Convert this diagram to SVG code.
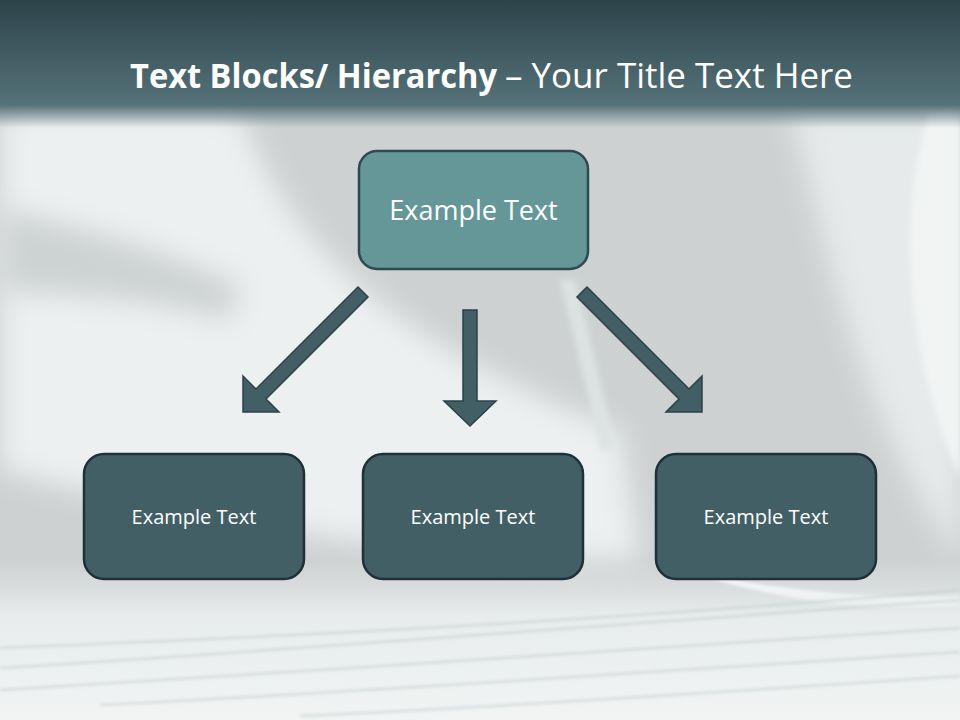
<svg xmlns="http://www.w3.org/2000/svg" width="960" height="720" viewBox="0 0 960 720">
<defs>
<linearGradient id="hdr" x1="0" y1="0" x2="0" y2="1">
<stop offset="0" stop-color="#2d434a"/>
<stop offset="0.82" stop-color="#557279"/>
<stop offset="1" stop-color="#5d7a80" stop-opacity="0"/>
</linearGradient>
<linearGradient id="bot" x1="0" y1="0" x2="0" y2="1">
<stop offset="0" stop-color="#e4e8e8" stop-opacity="0"/>
<stop offset="0.35" stop-color="#e8ecec"/>
<stop offset="1" stop-color="#f2f4f4"/>
</linearGradient>
<filter id="blur" x="-20%" y="-20%" width="140%" height="140%"><feGaussianBlur stdDeviation="14"/></filter>
<filter id="blur2" x="-20%" y="-20%" width="140%" height="140%"><feGaussianBlur stdDeviation="3"/></filter>
<filter id="blur1" x="-5%" y="-50%" width="110%" height="200%"><feGaussianBlur stdDeviation="1.5"/></filter>
<style>
.top{fill:#659799;stroke:#2f4a4f;stroke-width:2.5}
.box{fill:#425f66;stroke:#1f3137;stroke-width:2.5}
.arr{fill:#425f66;stroke:#2b4248;stroke-width:1.5;stroke-linejoin:miter}
.lbl{font-family:"Open Sans","Noto Sans",sans-serif;fill:#ffffff;text-anchor:middle}
.ttl{font-family:"Open Sans","Noto Sans",sans-serif;fill:#ffffff;font-size:34px}
.streak{fill:none;stroke:#c3cdcf;stroke-width:2.5;opacity:0.6}
</style>
</defs>
<g id="background">
<rect width="960" height="720" fill="#cdd1d2"/>
<path d="M0 110 L240 110 C280 230 380 340 620 430 L640 560 C400 560 200 520 0 470 Z" fill="#edf0f0" filter="url(#blur)"/>
<path d="M0 210 C80 225 160 250 240 285 L230 320 C160 300 80 295 0 290 Z" fill="#cdd2d3" filter="url(#blur)"/>
<path d="M560 280 C575 340 590 400 600 450 L615 450 C605 400 590 340 575 280 Z" fill="#dde2e3" filter="url(#blur2)"/>
<path d="M790 110 C830 250 850 400 960 560 L960 110 Z" fill="#e6eaea" filter="url(#blur)"/>
<path d="M930 110 C900 200 900 340 960 480 L960 110 Z" fill="#f2f4f4" filter="url(#blur2)"/>
<path d="M700 575 C780 600 860 612 960 606 L960 596 C870 600 790 590 700 575 Z" fill="#ffffff" filter="url(#blur1)"/>
<rect x="0" y="560" width="960" height="160" fill="url(#bot)"/>
<g filter="url(#blur1)">
<path class="streak" d="M0 668 C300 650 600 625 960 600"/>
<path class="streak" d="M0 690 C320 672 620 648 960 628"/>
<path class="streak" d="M100 705 C400 690 700 668 960 652"/>
<path class="streak" d="M300 716 C560 704 780 688 960 676"/>
<path class="streak" d="M0 648 C300 636 620 620 960 590"/>
</g>
<rect x="0" y="0" width="960" height="128" fill="url(#hdr)"/>
</g>
<g id="title">
<text class="ttl" x="130" y="88" font-weight="bold" textLength="367" lengthAdjust="spacingAndGlyphs">Text Blocks/ Hierarchy</text>
<text class="ttl" x="505" y="88" textLength="348" lengthAdjust="spacingAndGlyphs">– Your Title Text Here</text>
</g>
<g id="connectors">
<polygon class="arr" points="358,287 368,297 266,399 279,412 243,412 243,376 256,389"/>
<polygon class="arr" points="463,310 477,310 477,401 496,401 470,426 444,401 463,401"/>
<polygon class="arr" points="587,287 577,297 679,399 666,412 702,412 702,376 689,389"/>
</g>
<g id="node-top">
<rect class="top" x="359" y="151" width="229" height="118" rx="18"/>
<text class="lbl" x="473.5" y="220" font-size="27">Example Text</text>
</g>
<g id="node-left">
<rect class="box" x="84" y="454" width="220" height="125" rx="20"/>
<text class="lbl" x="194" y="524" font-size="20">Example Text</text>
</g>
<g id="node-middle">
<rect class="box" x="363" y="454" width="220" height="125" rx="20"/>
<text class="lbl" x="473" y="524" font-size="20">Example Text</text>
</g>
<g id="node-right">
<rect class="box" x="656" y="454" width="220" height="125" rx="20"/>
<text class="lbl" x="766" y="524" font-size="20">Example Text</text>
</g>
</svg>
